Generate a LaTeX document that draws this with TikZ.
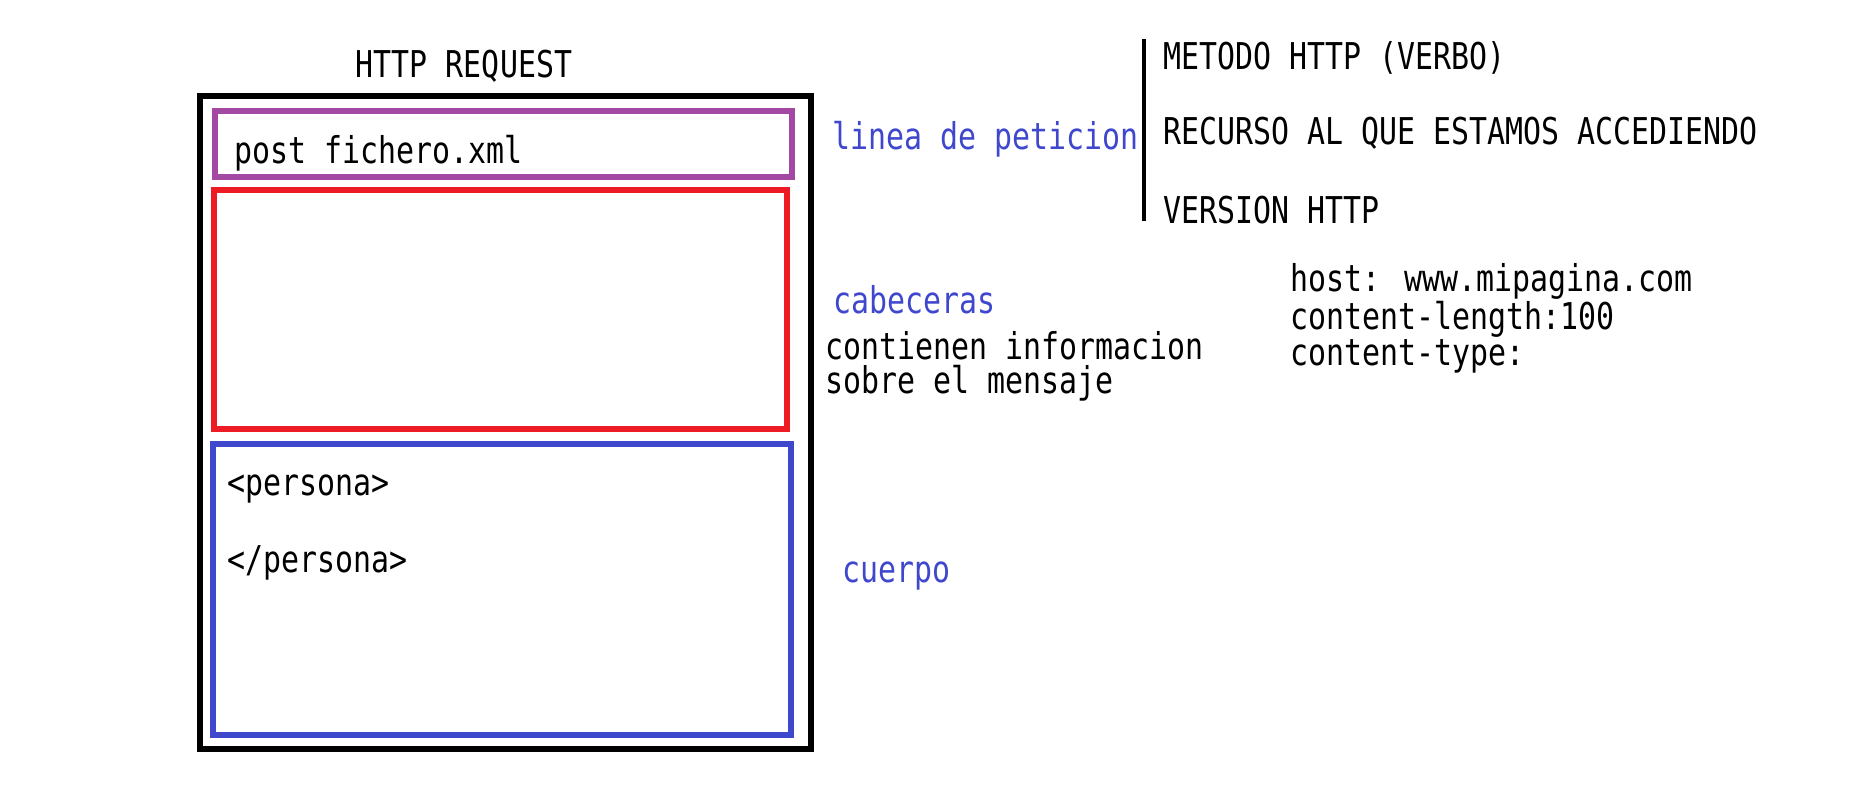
\documentclass[tikz,border=0pt]{standalone}
\usepackage{fontspec}
\newfontfamily\monof{DejaVu Sans Mono}[FakeStretch=0.81]
\definecolor{morado}{HTML}{A349A4}
\definecolor{rojo}{HTML}{ED1C24}
\definecolor{azul}{HTML}{3F48CC}
\begin{document}
\begin{tikzpicture}[x=0.01cm, y=-0.01cm, font=\monof\fontsize{10.5}{12}\selectfont, line join=miter,
	txt/.style={anchor=west, inner sep=0pt},
	etiq/.style={txt, text=azul},
	caja/.style={line width=1.45pt}]
			\useasboundingbox (0,0) rectangle (1853,802);
			% caja principal
			\node[inner sep=0pt] (titulo) at (464,66) {HTTP REQUEST};
			\draw[line width=1.45pt] (200,96) rectangle (811,749);
			\draw[caja, morado] (215,111) rectangle (792,177);
			\draw[caja, rojo] (214,190) rectangle (787,429);
			\draw[caja, azul] (213,444) rectangle (791,735);
			\node[txt] (linea) at (234,153) {post fichero.xml};
			\node[txt] (abre) at (227,489) {<persona>};
			\node[txt] (cierra) at (227,563) {</persona>};
			% etiquetas
			\node[etiq] (peticion) at (832,139) {linea de peticion};
			\node[etiq] (cabeceras) at (833,300) {cabeceras};
			\node[etiq] (cuerpo) at (842,576) {cuerpo};
			\node[txt] (info1) at (825,346) {contienen informacion};
			\node[txt] (info2) at (825,383) {sobre el mensaje};
			% partes de la linea de peticion
			\draw[line width=1.3pt] (1144,39)--(1144,221);
			\node[txt] (metodo) at (1163,58) {METODO HTTP (VERBO)};
			\node[txt] (recurso) at (1163,133) {RECURSO AL QUE ESTAMOS ACCEDIENDO};
			\node[txt] (version) at (1163,210) {VERSION HTTP};
			% ejemplo de cabeceras
			\node[txt] (host) at (1290,281) {host: www.mipagina.com};
			\node[txt] (longitud) at (1290,319) {content-length:100};
			\node[txt] (tipo) at (1290,356) {content-type:};
		\end{tikzpicture}
\end{document}
